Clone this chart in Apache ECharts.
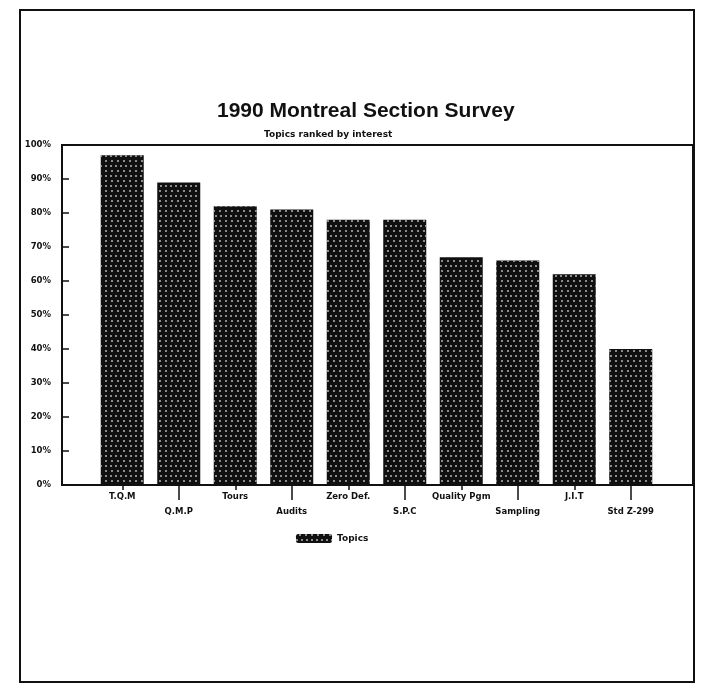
<!DOCTYPE html>
<html>
<head>
<meta charset="utf-8">
<script src="https://cdn.jsdelivr.net/npm/echarts@6/dist/echarts.min.js"></script>
<style>
  html, body { margin: 0; padding: 0; background: #fff; }
  #chart { width: 701px; height: 686px; }
</style>
</head>
<body>
<div id="chart"></div>
<script>
// survey data
const topics = ['T.Q.M', 'Q.M.P', 'Tours', 'Audits', 'Zero Def.', 'S.P.C', 'Quality Pgm', 'Sampling', 'J.I.T', 'Std Z-299'];
const interest = [97, 89, 82, 81, 78, 78, 67, 66, 62, 40];
const seriesName = 'Topics';

const ink = '#111';
const lblFont = { fontFamily: 'DejaVu Sans', fontWeight: 'bold', fontSize: 8.5, color: ink };
const even = i => i % 2 === 0;
const odd = i => i % 2 === 1;

const chart = echarts.init(document.getElementById('chart'));
chart.setOption({
  animation: false,
  backgroundColor: '#fff',
  aria: {
    enabled: true,
    decal: {
      show: true,
      decals: [{
        symbol: 'circle',
        symbolSize: 1,
        color: 'rgba(200,200,200,0.9)',
        dashArrayX: [[2, 3], [0, 2.5, 2, 0.5]],
        dashArrayY: [2, 2.5],
        rotation: 0,
      }],
    },
  },
  title: [
    {
      text: '1990 Montreal Section Survey',
      left: 212,
      top: 96,
      textStyle: { fontFamily: 'Liberation Sans', fontWeight: 'bold', fontSize: 21, color: ink },
    },
    {
      text: 'Topics ranked by interest',
      left: 259,
      top: 125,
      textStyle: { fontFamily: 'DejaVu Sans', fontWeight: 'bold', fontSize: 9, color: ink },
    },
  ],
  legend: {
    data: [seriesName],
    left: 291,
    top: 529,
    itemWidth: 36,
    itemHeight: 9,
    itemGap: 6,
    textStyle: { fontFamily: 'DejaVu Sans', fontWeight: 'bold', fontSize: 9, color: ink },
    itemStyle: { borderWidth: 0 },
  },
  graphic: [{
    type: 'rect',
    shape: { x: 20, y: 10, width: 674, height: 672 },
    style: { fill: 'none', stroke: ink, lineWidth: 2 },
    silent: true,
  }],
  grid: [
    // frame with the y axis
    { left: 62, right: 8, top: 145, bottom: 201, show: true, borderColor: ink, borderWidth: 2, backgroundColor: 'transparent' },
    // bars
    { left: 94, right: 42, top: 145, bottom: 201 },
  ],
  xAxis: [
    { gridIndex: 0, type: 'category', data: [], show: false },
    {
      gridIndex: 1,
      type: 'category',
      data: topics,
      position: 'bottom',
      axisLine: { show: false },
      axisTick: { show: true, alignWithLabel: true, interval: even, length: 5, lineStyle: { color: ink, width: 1.5 } },
      axisLabel: { interval: even, margin: 7, ...lblFont },
    },
    {
      gridIndex: 1,
      type: 'category',
      data: topics,
      position: 'bottom',
      offset: 0,
      axisLine: { show: false },
      axisTick: { show: true, alignWithLabel: true, interval: odd, length: 15, lineStyle: { color: ink, width: 1.5 } },
      axisLabel: { interval: odd, margin: 22, ...lblFont },
    },
  ],
  yAxis: [
    {
      gridIndex: 0,
      type: 'value',
      min: 0,
      max: 100,
      interval: 10,
      axisLine: { show: true, lineStyle: { color: ink, width: 2 } },
      axisTick: { show: true, inside: true, length: 7, lineStyle: { color: ink, width: 1.5 } },
      axisLabel: { formatter: '{value}%', margin: 11, ...lblFont },
      splitLine: { show: false },
    },
    { gridIndex: 1, type: 'value', min: 0, max: 100, show: false },
  ],
  series: [{
    name: seriesName,
    type: 'bar',
    xAxisIndex: 1,
    yAxisIndex: 1,
    barWidth: 43,
    data: interest,
    itemStyle: { color: '#101010' },
  }],
});
</script>
</body>
</html>
